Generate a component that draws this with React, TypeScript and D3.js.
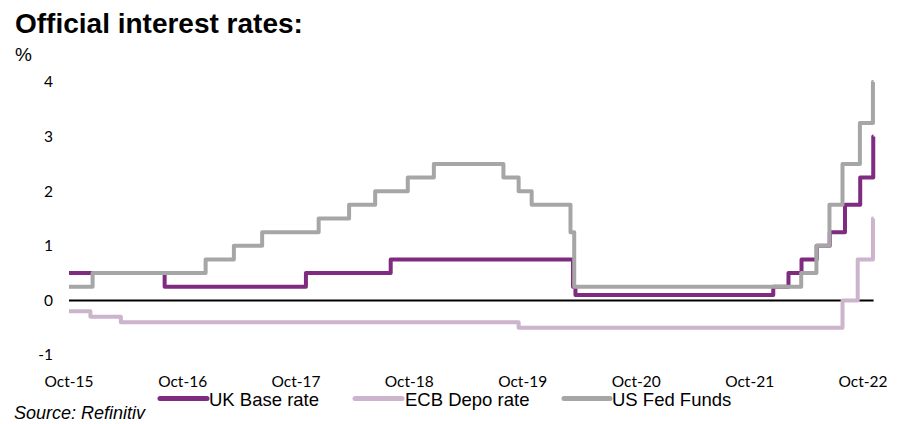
import React from "react";
import * as d3 from "d3";

// Policy rate changes: the date a new rate took effect, and the rate (%)
const ukDates = ["2015-10-01", "2016-08-04", "2017-11-02", "2018-08-02", "2020-03-11", "2020-03-19", "2021-12-16", "2022-02-03", "2022-03-17", "2022-05-05", "2022-06-16", "2022-08-04", "2022-09-22", "2022-11-03"];
const ukRates = [0.5, 0.25, 0.5, 0.75, 0.25, 0.1, 0.25, 0.5, 0.75, 1.0, 1.25, 1.75, 2.25, 3.0];

const ecbDates = ["2015-10-01", "2015-12-09", "2016-03-16", "2019-09-18", "2022-07-27", "2022-09-14", "2022-11-02"];
const ecbRates = [-0.2, -0.3, -0.4, -0.5, 0.0, 0.75, 1.5];

const fedDates = ["2015-10-01", "2015-12-16", "2016-12-14", "2017-03-15", "2017-06-14", "2017-12-13", "2018-03-21", "2018-06-13", "2018-09-26", "2018-12-19", "2019-07-31", "2019-09-18", "2019-10-30", "2020-03-03", "2020-03-15", "2022-03-16", "2022-05-04", "2022-06-15", "2022-07-27", "2022-09-21", "2022-11-02"];
const fedRates = [0.25, 0.5, 0.75, 1.0, 1.25, 1.5, 1.75, 2.0, 2.25, 2.5, 2.25, 2.0, 1.75, 1.25, 0.25, 0.5, 1.0, 1.75, 2.5, 3.25, 4.0];

const startDate = "2015-10-01";
const endDate = "2022-11-04";
const xTickDates = ["2015-10-01", "2016-10-01", "2017-10-01", "2018-10-01", "2019-10-01", "2020-10-01", "2021-10-01", "2022-10-01"];
const yTicks = [-1, 0, 1, 2, 3, 4];

const seriesNames = ["UK Base rate", "ECB Depo rate", "US Fed Funds"];
const seriesColors = ["#7F2B80", "#CBB4CC", "#A6A6A6"];

const parse = d3.utcParse("%Y-%m-%d");
const fmt = d3.utcFormat("%b-%y");

type Pt = { d: Date; v: number };

function buildSeries(dates: string[], rates: number[]): Pt[] {
  const pts = dates.map((s, i) => ({ d: parse(s) as Date, v: rates[i] }));
  pts.push({ d: parse(endDate) as Date, v: rates[rates.length - 1] });
  return pts;
}

export default function App() {
  const width = 913;
  const height = 424;

  const x = d3
    .scaleUtc()
    .domain([parse("2015-10-01") as Date, parse("2022-10-01") as Date])
    .range([69, 863]);
  const y = d3.scaleLinear().domain([-1, 4]).range([355, 82]);

  const line = d3
    .line<Pt>()
    .x((p) => x(p.d))
    .y((p) => y(p.v))
    .curve(d3.curveStepAfter);

  const series = [
    buildSeries(ukDates, ukRates),
    buildSeries(ecbDates, ecbRates),
    buildSeries(fedDates, fedRates),
  ];
  // ECB underneath, then UK, Fed on top
  const drawOrder = [1, 0, 2];

  const tickFont = "Lato, Carlito, Calibri, sans-serif";
  const textFont = "'Liberation Sans', Arial, sans-serif";

  const legend = [
    { x0: 160, x1: 207, tx: 209 },
    { x0: 355, x1: 402, tx: 405 },
    { x0: 564, x1: 610, tx: 612 },
  ];

  return (
    <div style={{ position: "fixed", left: 0, top: 0 }}>
      <svg width={width} height={height} style={{ display: "block", background: "#fff" }}>
        <text x={15} y={33} fontFamily={textFont} fontWeight="bold" fontSize={28} fill="#000">
          Official interest rates:
        </text>
        <text x={15} y={61} fontFamily={textFont} fontSize={19} fill="#000">
          %
        </text>

        {yTicks.map((t) => (
          <text key={t} x={53} y={y(t)} dy="0.35em" textAnchor="end" fontFamily={tickFont} fontSize={15.5} fill="#000">
            {t}
          </text>
        ))}

        {xTickDates.map((s) => {
          const d = parse(s) as Date;
          return (
            <text key={s} x={x(d)} y={387} textAnchor="middle" fontFamily={tickFont} fontSize={15.5} fill="#000">
              {fmt(d)}
            </text>
          );
        })}

        <line
          x1={x(parse(startDate) as Date)}
          x2={x(parse(endDate) as Date)}
          y1={y(0)}
          y2={y(0)}
          stroke="#000"
          strokeWidth={2}
        />

        {drawOrder.map((i) => (
          <path
            key={seriesNames[i]}
            d={line(series[i]) || ""}
            fill="none"
            stroke={seriesColors[i]}
            strokeWidth={4}
            strokeLinejoin="round"
          />
        ))}

        {legend.map((l, i) => (
          <g key={seriesNames[i]}>
            <line x1={l.x0} x2={l.x1} y1={398.5} y2={398.5} stroke={seriesColors[i]} strokeWidth={5} strokeLinecap="round" />
            <text x={l.tx} y={406} fontFamily={textFont} fontSize={18.5} fill="#000">
              {seriesNames[i]}
            </text>
          </g>
        ))}

        <text x={14} y={419} fontFamily={textFont} fontStyle="italic" fontSize={18} fill="#000">
          Source: Refinitiv
        </text>
      </svg>
    </div>
  );
}
